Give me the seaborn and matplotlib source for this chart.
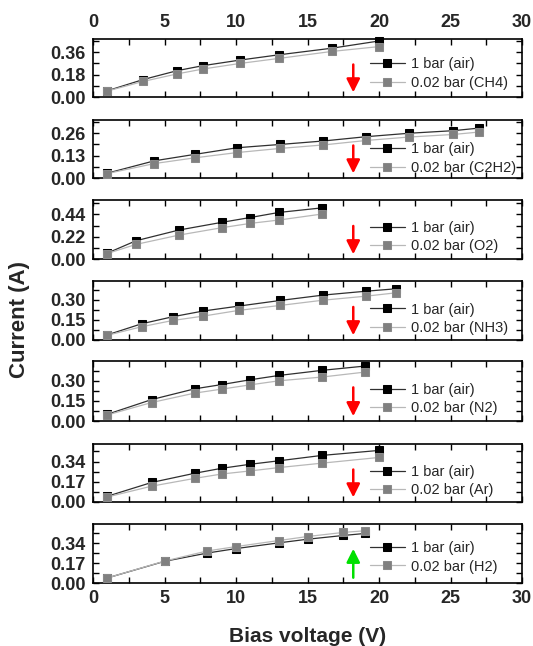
import numpy as np
import pandas as pd
import matplotlib
matplotlib.use("Agg")
import matplotlib.pyplot as plt
import seaborn as sns

# ---------------- data ----------------
gases = ["CH4", "C2H2", "O2", "NH3", "N2", "Ar", "H2"]

v_ch4 = [1, 3.5, 5.9, 7.7, 10.3, 13, 16.7, 20]
air_ch4 = [0.05, 0.14, 0.212, 0.252, 0.297, 0.339, 0.392, 0.45]
gas_ch4 = [0.048, 0.125, 0.186, 0.225, 0.27, 0.31, 0.366, 0.405]

v_c2h2 = [1, 4.3, 7.1, 10.1, 13.1, 16.1, 19.1, 22.1, 25.2, 27]
air_c2h2 = [0.028, 0.10, 0.137, 0.176, 0.195, 0.215, 0.24, 0.26, 0.275, 0.29]
gas_c2h2 = [0.026, 0.084, 0.117, 0.148, 0.172, 0.192, 0.218, 0.238, 0.253, 0.267]

v_o2 = [1, 3, 6, 9, 11, 13, 16]
air_o2 = [0.058, 0.18, 0.286, 0.362, 0.41, 0.46, 0.505]
gas_o2 = [0.054, 0.144, 0.236, 0.309, 0.352, 0.385, 0.444]

v_nh3 = [1, 3.4, 5.6, 7.7, 10.2, 13.1, 16.1, 19.1, 21.2]
air_nh3 = [0.038, 0.121, 0.174, 0.216, 0.253, 0.295, 0.335, 0.364, 0.382]
gas_nh3 = [0.035, 0.099, 0.146, 0.178, 0.221, 0.258, 0.297, 0.327, 0.352]

v_n2 = [1, 4.1, 7.1, 9, 11, 13, 16, 19]
air_n2 = [0.05, 0.16, 0.24, 0.272, 0.308, 0.34, 0.378, 0.41]
gas_n2 = [0.045, 0.138, 0.208, 0.238, 0.27, 0.30, 0.328, 0.365]

v_ar = [1, 4.1, 7.1, 9, 11, 13, 16, 20]
air_ar = [0.048, 0.164, 0.241, 0.283, 0.317, 0.346, 0.391, 0.433]
gas_ar = [0.042, 0.133, 0.198, 0.235, 0.261, 0.289, 0.326, 0.374]

v_h2 = [1, 5, 8, 10, 13, 15, 17.5, 19]
air_h2 = [0.043, 0.185, 0.256, 0.294, 0.343, 0.374, 0.406, 0.423]
gas_h2 = [0.043, 0.187, 0.274, 0.311, 0.363, 0.397, 0.432, 0.446]

volts = [v_ch4, v_c2h2, v_o2, v_nh3, v_n2, v_ar, v_h2]
air = [air_ch4, air_c2h2, air_o2, air_nh3, air_n2, air_ar, air_h2]
gas = [gas_ch4, gas_c2h2, gas_o2, gas_nh3, gas_n2, gas_ar, gas_h2]

ytick_step = [0.18, 0.13, 0.22, 0.15, 0.15, 0.17, 0.17]
ytop = [0.466, 0.337, 0.583, 0.44, 0.448, 0.487, 0.504]
arrow_up = [False, False, False, False, False, False, True]
xticks = [0, 5, 10, 15, 20, 25, 30]

# ---------------- style ----------------
sns.set_theme(style="ticks")
plt.rcParams["font.family"] = ["Liberation Sans", "DejaVu Sans"]

W, H = 533, 646
fig = plt.figure(figsize=(W / 100, H / 100), dpi=100)
panel_px = [(39, 97), (120, 178), (200, 259), (281, 340), (361, 421), (444, 502), (524, 583)]
left_px, right_px = 93, 522
leg_mid = [0.405, 0.335, 0.375, 0.36, 0.365, 0.36, 0.435]

n = len(gases)
for i in range(n):
    t, b = panel_px[i]
    ax = fig.add_axes([left_px / W, 1 - b / H, (right_px - left_px) / W, (b - t) / H])
    df_air = pd.DataFrame({"V": volts[i], "I": air[i]})
    df_gas = pd.DataFrame({"V": volts[i], "I": gas[i]})
    sns.lineplot(data=df_air, x="V", y="I", ax=ax, color="#303030", lw=0.9,
                 marker="s", markersize=6, markerfacecolor="black",
                 markeredgecolor="black", label="1 bar (air)", zorder=3, clip_on=False)
    sns.lineplot(data=df_gas, x="V", y="I", ax=ax, color="#b8b8b8", lw=0.9,
                 marker="s", markersize=6, markerfacecolor="#808080",
                 markeredgecolor="#8a8a8a", label=f"0.02 bar ({gases[i]})", zorder=4,
                 clip_on=False)

    ax.set_xlim(0, 30)
    ax.set_ylim(0, ytop[i])
    s = ytick_step[i]
    yt = [0, s, 2 * s]
    ax.set_yticks(yt)
    ax.set_yticklabels([f"{v:.2f}" for v in yt], fontweight="bold", fontsize=13)
    ax.set_yticks(np.arange(s / 2, ytop[i], s / 2), minor=True)
    ax.set_xticks(xticks)
    ax.set_xticks(np.arange(2.5, 30, 2.5), minor=True)
    ax.set_xticklabels([str(v) for v in xticks], fontweight="bold", fontsize=13)

    ax.tick_params(which="both", direction="in", top=True, right=True,
                   length=4, width=1, color="black")
    ax.tick_params(axis="y", pad=5.5)
    if i == 0:
        ax.tick_params(axis="x", labeltop=True, labelbottom=False, pad=6)
    elif i == n - 1:
        ax.tick_params(axis="x", labeltop=False, labelbottom=True, pad=5)
    else:
        ax.tick_params(axis="x", labeltop=False, labelbottom=False)
    for sp in ax.spines.values():
        sp.set_linewidth(1.2)
        sp.set_color("black")
    ax.set_xlabel("")
    ax.set_ylabel("")

    if arrow_up[i]:
        ax.annotate("", xy=(18.2, 0.58), xytext=(18.2, 0.09),
                    xycoords=("data", "axes fraction"), textcoords=("data", "axes fraction"),
                    arrowprops=dict(arrowstyle="-|>", color="#00e000", lw=1.8,
                                    mutation_scale=20, shrinkA=0, shrinkB=0))
    else:
        ax.annotate("", xy=(18.2, 0.08), xytext=(18.2, 0.56),
                    xycoords=("data", "axes fraction"), textcoords=("data", "axes fraction"),
                    arrowprops=dict(arrowstyle="-|>", color="red", lw=1.8,
                                    mutation_scale=20, shrinkA=0, shrinkB=0))

    ax.legend(loc="center left", bbox_to_anchor=(0.645, leg_mid[i]), frameon=False,
              fontsize=10.5, handlelength=2.4, handletextpad=0.4, labelspacing=0.3,
              borderpad=0, borderaxespad=0)

fig.text(((left_px + right_px) / 2) / W, 1 - 637 / H, "Bias voltage (V)",
         ha="center", va="center", fontsize=15, fontweight="bold")
fig.text(20 / W, 1 - 320 / H, "Current (A)", ha="center", va="center",
         rotation=90, fontsize=16, fontweight="bold")

fig.savefig("out.png", dpi=100)
